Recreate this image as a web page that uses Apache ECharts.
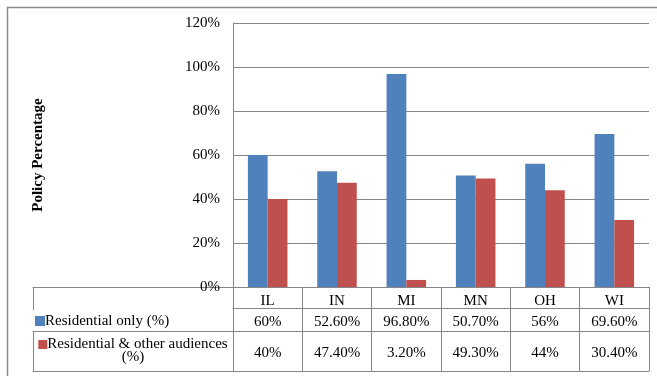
<!DOCTYPE html>
<html>
<head>
<meta charset="utf-8">
<script src="https://cdn.jsdelivr.net/npm/echarts@6/dist/echarts.min.js"></script>
<style>
  html, body { margin: 0; padding: 0; background: #fff; }
  #chart { width: 657px; height: 376px; }
</style>
</head>
<body>
<div id="chart"></div>
<script>
// Share of policies by audience, per state
const states = ['IL', 'IN', 'MI', 'MN', 'OH', 'WI'];
const residentialOnly = ['60%', '52.60%', '96.80%', '50.70%', '56%', '69.60%'];
const residentialOther = ['40%', '47.40%', '3.20%', '49.30%', '44%', '30.40%'];
const seriesNames = ['Residential only (%)', 'Residential & other audiences (%)'];
const yTicks = { min: 0, max: 120, step: 20 };

const toNumber = s => parseFloat(s);
const FONT = 'Liberation Serif';
const LINE = '#868686';
const TEXT = '#000';
const COLORS = ['#4F81BD', '#C0504D'];

const line = { show: true, lineStyle: { color: LINE, width: 1 } };
const labelBase = { color: TEXT, fontFamily: FONT, fontSize: 15, verticalAlign: 'middle', interval: 0 };

// table row header texts: legend key followed by the series name
const blueRowLabel = '{kb|}' + seriesNames[0];
const redRowLabel = '{kr|}' + seriesNames[1].replace(' (%)', '\n(%)');
const rowRich = {
  kb: { backgroundColor: COLORS[0], width: 10, height: 10, padding: 0 },
  kr: { backgroundColor: COLORS[1], width: 9, height: 9, padding: 0 }
};

const chart = echarts.init(document.getElementById('chart'), null, { renderer: 'canvas' });

chart.setOption({
  backgroundColor: '#fff',
  animation: false,
  grid: [
    { left: 233, right: 8, top: 23, bottom: 89, outerBoundsMode: 'none' },
    { left: 33, width: 200, top: 23, bottom: 89, outerBoundsMode: 'none' }
  ],
  graphic: [{
    type: 'rect', silent: true,
    shape: { x: 7.5, y: 7.5, width: 700, height: 400 },
    style: { fill: null, stroke: '#8c8c8c', lineWidth: 1.5 }
  }],
  xAxis: [
    // category header row
    { gridIndex: 0, type: 'category', data: states, position: 'bottom',
      axisLine: line, axisTick: { show: true, length: 21, lineStyle: { color: LINE } },
      axisLabel: Object.assign({}, labelBase, { margin: 14 }) },
    // value rows of the data table
    { gridIndex: 0, type: 'category', data: residentialOnly, position: 'bottom', offset: 21,
      axisLine: line, axisTick: { show: true, length: 23, lineStyle: { color: LINE } },
      axisLabel: Object.assign({}, labelBase, { margin: 14 }) },
    { gridIndex: 0, type: 'category', data: residentialOther, position: 'bottom', offset: 44,
      axisLine: line, axisTick: { show: true, length: 40, lineStyle: { color: LINE } },
      axisLabel: Object.assign({}, labelBase, { margin: 22 }) },
    { gridIndex: 0, type: 'category', data: states, position: 'bottom', offset: 84,
      axisLine: line, axisTick: { show: false }, axisLabel: { show: false } },
    // row header column
    { gridIndex: 1, type: 'category', data: [blueRowLabel, ''], boundaryGap: false,
      position: 'bottom', offset: 21,
      axisLine: line, axisTick: { show: true, length: 23, lineStyle: { color: LINE } },
      axisLabel: Object.assign({}, labelBase, { margin: 13, align: 'left', padding: [0, 0, 0, 2], rich: rowRich }) },
    { gridIndex: 1, type: 'category', data: [redRowLabel], position: 'bottom', offset: 44,
      axisLine: line, axisTick: { show: true, length: 40, lineStyle: { color: LINE } },
      axisLabel: Object.assign({}, labelBase, { margin: 20, align: 'center', lineHeight: 13, rich: rowRich }) },
    { gridIndex: 1, type: 'category', data: [''], position: 'bottom', offset: 84,
      axisLine: line, axisTick: { show: false }, axisLabel: { show: false } }
  ],
  yAxis: [
    { gridIndex: 0, type: 'value', min: yTicks.min, max: yTicks.max, interval: yTicks.step,
      name: 'Policy Percentage', nameLocation: 'middle', nameGap: 187,
      nameTextStyle: { fontFamily: FONT, fontSize: 15, fontWeight: 'bold', color: TEXT },
      axisLine: line, axisTick: { show: false },
      splitLine: { show: true, lineStyle: { color: LINE, width: 1 } },
      axisLabel: { formatter: '{value}%', color: TEXT, fontFamily: FONT, fontSize: 15, margin: 13 } },
    { gridIndex: 1, type: 'value', min: 0, max: 1, show: false }
  ],
  series: [
    { name: seriesNames[0], type: 'bar', xAxisIndex: 0, yAxisIndex: 0,
      data: residentialOnly.map(toNumber), itemStyle: { color: COLORS[0] },
      barGap: '0%', barCategoryGap: '43%' },
    { name: seriesNames[1], type: 'bar', xAxisIndex: 0, yAxisIndex: 0,
      data: residentialOther.map(toNumber), itemStyle: { color: COLORS[1] },
      barGap: '0%', barCategoryGap: '43%' }
  ]
});
</script>
</body>
</html>
